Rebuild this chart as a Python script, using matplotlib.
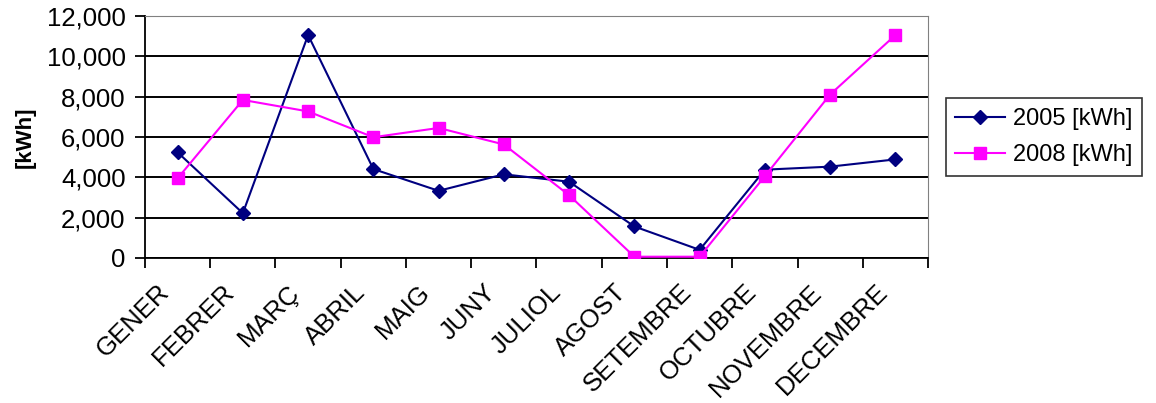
import matplotlib.pyplot as plt
import numpy as np
from matplotlib.ticker import FuncFormatter, FixedLocator

plt.rcParams['font.family'] = ['Liberation Sans', 'DejaVu Sans']

months = ["GENER", "FEBRER", "MARÇ", "ABRIL", "MAIG", "JUNY",
          "JULIOL", "AGOST", "SETEMBRE", "OCTUBRE", "NOVEMBRE", "DECEMBRE"]
kwh_2005 = [5240, 2220, 11060, 4410, 3330, 4150, 3780, 1560, 400, 4380, 4530, 4890]
kwh_2008 = [3950, 7840, 7270, 5990, 6450, 5630, 3110, 60, 60, 4060, 8110, 11060]

fig = plt.figure(figsize=(11.56, 4.03), dpi=100)
ax = fig.add_axes([0.1254, 0.360, 0.6774, 0.600])

x = np.arange(len(months))
ax.plot(x, kwh_2005, color='#000080', lw=1.5, marker='D', ms=7.5,
        label='2005 [kWh]', zorder=3)
ax.plot(x, kwh_2008, color='#FF00FF', lw=1.5, marker='s', ms=8,
        label='2008 [kWh]', zorder=3)

ax.set_xlim(-0.5, len(months) - 0.5)
ax.set_ylim(0, 12000)
ax.set_yticks(np.arange(0, 12001, 2000))
ax.yaxis.set_major_formatter(FuncFormatter(lambda v, p: f"{int(v):,}"))
ax.yaxis.grid(True, color='black', lw=1.4)
ax.set_axisbelow(True)

# rotated labels sit a bit left of each category centre (no visible major tick)
ax.set_xticks(x - 0.18)
ax.set_xticklabels(months, rotation=45, ha='right', va='center',
                   rotation_mode='anchor')
ax.xaxis.set_minor_locator(FixedLocator(np.arange(-0.5, len(months), 1)))
ax.tick_params(axis='x', which='major', length=0, pad=22, labelsize=18.5)
ax.tick_params(axis='x', which='minor', length=7, width=1.3, direction='out')
ax.tick_params(axis='y', length=7, width=1.3, labelsize=18.5, pad=7)

ax.spines['top'].set_color('#808080')
ax.spines['right'].set_color('#808080')
ax.spines['left'].set_linewidth(1.3)
ax.spines['bottom'].set_linewidth(1.3)

ax.set_ylabel('[kWh]', fontsize=16, fontweight='bold', labelpad=8)

leg = ax.legend(loc='center left', bbox_to_anchor=(1.023, 0.5), fontsize=17,
                frameon=True, fancybox=False, edgecolor='black',
                borderaxespad=0, handlelength=2.1, borderpad=0.4,
                labelspacing=0.6, handletextpad=0.35)
leg.get_frame().set_linewidth(1.2)

fig.savefig('out.png', dpi=100)
